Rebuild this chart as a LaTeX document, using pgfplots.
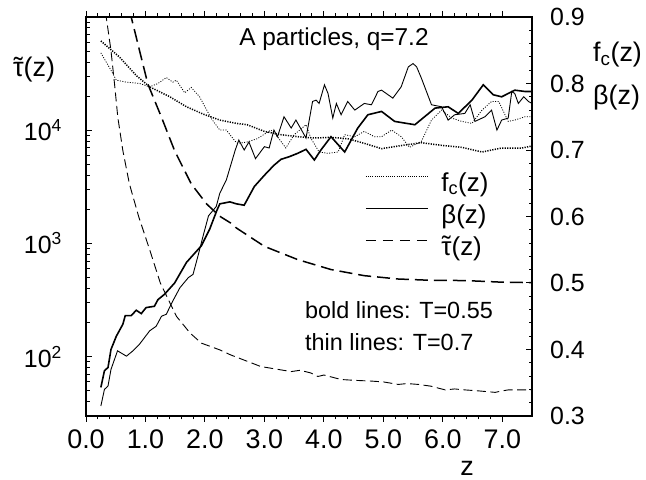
\documentclass[border=0pt]{standalone}
\usepackage{fontspec}
\setmainfont{Liberation Sans}
\usepackage{pgfplots}
\pgfplotsset{compat=1.18}
\newcommand{\tkb}{\fontsize{27}{31}\selectfont}
\newcommand{\tky}{\fontsize{25}{29}\selectfont}
\newcommand{\lab}{\fontsize{27}{31}\selectfont}
\newcommand{\leg}{\fontsize{26}{30}\selectfont}
\newcommand{\ann}{\fontsize{23.5}{27}\selectfont}
\newcommand{\tautilde}{\ooalign{τ\cr\hidewidth\raisebox{0.02em}{˜}\hidewidth\cr}}
\begin{document}
\begin{tikzpicture}
\useasboundingbox (0,0) rectangle (646bp,480bp);
\pgfplotsset{
  common/.style={at={(86bp,64bp)}, anchor=south west, scale only axis,
    width=446bp, height=399bp, xmin=0, xmax=7.5,
    axis line style={line width=1.2bp},
    every tick/.style={line width=1bp, black},
    major tick length=6bp, minor tick length=3.5bp},
  boldtau/.style={black, line width=1.5bp, dash pattern=on 13bp off 6bp},
  thintau/.style={black, line width=0.9bp, dash pattern=on 9bp off 4.5bp},
  boldfc/.style={black, line width=1.5bp, dash pattern=on 1.2bp off 1.3bp},
  thinfc/.style={black, line width=0.8bp, dash pattern=on 1bp off 1.5bp},
  boldbeta/.style={black, line width=1.6bp},
  thinbeta/.style={black, line width=0.9bp},
}
% frame and x ticks
\begin{axis}[common, ymin=0, ymax=1, ytick=\empty,
  xtick={0,1,2,3,4,5,6,7},
  xticklabels={0.0,1.0,2.0,3.0,4.0,5.0,6.0,7.0},
  minor x tick num=4, tick align=outside, xtick pos=both, xticklabel pos=bottom,
  xticklabel style={font=\tkb, inner sep=0pt, yshift=-8bp}]
\end{axis}
% left log axis: tau
\begin{axis}[common, axis x line=none, axis y line*=left, ymode=log,
  ymin=30, ymax=1e5, ytick={100,1000,10000},
  yticklabels={10\textsuperscript{2},10\textsuperscript{3},10\textsuperscript{4}},
  minor ytick={40,50,60,70,80,90,200,300,400,500,600,700,800,900,2000,3000,4000,5000,6000,7000,8000,9000,20000,30000,40000,50000,60000,70000,80000,90000},
  tick align=inside,
  yticklabel style={font=\tky, inner sep=0pt, xshift=-24bp}]
\addplot[boldtau] coordinates {
(0.5,350000) (0.76,100000) (0.90,50600) (1.04,25600) (1.27,13000) (1.49,6600)
(1.77,3360) (2.03,2230) (2.25,1740) (2.43,1520) (2.53,1370) (3.0,944)
(3.56,721) (4.12,589) (4.68,520) (5.25,486) (5.81,473) (6.37,471) (6.94,457) (7.5,451)};
\addplot[thintau] coordinates {
(0.25,250000) (0.34,100000) (0.42,50600) (0.48,25600) (0.535,13000) (0.62,6600)
(0.73,3360) (0.89,1700) (1.07,884) (1.25,448) (1.52,228) (1.75,162) (1.94,132)
(2.25,115) (2.43,104) (2.94,82) (3.45,74) (3.6,76) (3.78,72) (3.90,67) (4.0,69)
(4.29,63) (4.5,62) (4.80,61) (5.0,60) (5.25,57) (5.4,58) (5.59,57) (5.8,55)
(6.04,51) (6.2,52) (6.37,51) (6.6,50) (6.88,48.5) (7.0,50) (7.1,51) (7.3,51) (7.5,51)};
\end{axis}
% right linear axis: beta and f_c
\begin{axis}[common, axis x line=none, axis y line*=right,
  ymin=0.3, ymax=0.9, ytick={0.3,0.4,0.5,0.6,0.7,0.8,0.9},
  yticklabels={0.3,0.4,0.5,0.6,0.7,0.8,0.9},
  minor y tick num=4, tick align=inside,
  yticklabel style={font=\tky, inner sep=0pt, xshift=18bp},
  legend style={at={(0.6256,0.6115)}, anchor=north west, draw=none, fill=none,
    inner sep=0pt, row sep=7bp, font=\leg,
    nodes={inner sep=0pt, text height=19bp, text depth=6bp},
    /tikz/every odd column/.append style={column sep=13bp}},
  legend cell align=left,
  legend image code/.code={\draw[#1] (0bp,8bp) -- (62bp,8bp);}]
\addlegendimage{black, line width=1bp, dash pattern=on 1bp off 1.2bp}
\addlegendimage{black, line width=1.2bp}
\addlegendimage{black, line width=1bp, dash pattern=on 10bp off 7bp}
\legend{f\textsubscript{c}(z), β(z), \tautilde(z)}
\addplot[boldfc, forget plot] coordinates {
(0.25,0.864) (0.56,0.840) (0.845,0.812) (1.07,0.795) (1.41,0.780) (1.69,0.765)
(1.97,0.754) (2.25,0.745) (2.53,0.740) (2.71,0.738) (3.0,0.728) (3.28,0.723)
(3.56,0.720) (3.84,0.718) (4.12,0.719) (4.40,0.717) (4.68,0.710) (4.97,0.702)
(5.25,0.706) (5.64,0.711) (5.98,0.707) (6.32,0.704) (6.66,0.697) (6.99,0.703)
(7.33,0.703) (7.5,0.706)};
\addplot[thinfc, forget plot] coordinates {
(0.25,0.846) (0.42,0.820) (0.51,0.805) (0.68,0.802) (0.90,0.800) (1.07,0.795)
(1.21,0.800) (1.35,0.809) (1.46,0.802) (1.52,0.805) (1.66,0.786) (1.77,0.794)
(1.91,0.780) (2.0,0.765) (2.11,0.747) (2.25,0.730) (2.36,0.730) (2.51,0.713)
(2.55,0.71) (2.71,0.712) (2.88,0.717) (3.11,0.73) (3.22,0.72) (3.36,0.703)
(3.5,0.723) (3.70,0.738) (3.78,0.718) (3.92,0.697) (4.07,0.695) (4.24,0.697)
(4.35,0.723) (4.52,0.72) (4.68,0.728) (4.85,0.72) (4.97,0.72) (5.14,0.73)
(5.30,0.72) (5.44,0.704) (5.64,0.713) (5.81,0.745) (5.98,0.76) (6.15,0.748)
(6.32,0.743) (6.49,0.74) (6.66,0.76) (6.82,0.773) (6.94,0.773) (7.1,0.743)
(7.21,0.745) (7.38,0.75) (7.5,0.75)};
\addplot[boldbeta, forget plot] coordinates {
(0.25,0.343) (0.31,0.368) (0.37,0.373) (0.42,0.40) (0.51,0.42) (0.62,0.438)
(0.66,0.451) (0.76,0.451) (0.845,0.459) (0.93,0.454) (1.01,0.463) (1.15,0.465)
(1.21,0.475) (1.32,0.483) (1.49,0.50) (1.69,0.531) (1.86,0.548) (1.94,0.556)
(2.08,0.581) (2.20,0.609) (2.25,0.619) (2.42,0.622) (2.53,0.619) (2.66,0.617)
(2.83,0.645) (3.0,0.662) (3.16,0.677) (3.28,0.686) (3.42,0.690) (3.56,0.695)
(3.70,0.701) (3.84,0.685) (3.95,0.70) (4.12,0.72) (4.35,0.697) (4.57,0.733)
(4.74,0.753) (4.97,0.758) (5.19,0.743) (5.53,0.738) (5.87,0.763) (6.09,0.765)
(6.26,0.755) (6.49,0.775) (6.68,0.798) (6.85,0.783) (6.99,0.78) (7.21,0.79)
(7.38,0.788) (7.5,0.788)};
\addplot[thinbeta, forget plot] coordinates {
(0.25,0.315) (0.31,0.34) (0.37,0.345) (0.42,0.37) (0.53,0.398) (0.68,0.39)
(0.79,0.398) (0.90,0.408) (1.07,0.428) (1.18,0.435) (1.27,0.45) (1.35,0.453)
(1.46,0.473) (1.58,0.493) (1.72,0.508) (1.80,0.513) (1.89,0.543) (1.97,0.571)
(2.06,0.601) (2.19,0.615) (2.25,0.635) (2.36,0.655) (2.51,0.70) (2.57,0.715)
(2.66,0.70) (2.74,0.712) (2.85,0.687) (3.0,0.705) (3.08,0.703) (3.16,0.73)
(3.22,0.72) (3.33,0.75) (3.45,0.733) (3.53,0.745) (3.70,0.718) (3.81,0.773)
(3.87,0.775) (3.92,0.77) (4.01,0.798) (4.07,0.785) (4.15,0.748) (4.21,0.77)
(4.29,0.753) (4.40,0.773) (4.52,0.76) (4.68,0.77) (4.80,0.768) (4.91,0.788)
(4.97,0.79) (5.16,0.778) (5.30,0.795) (5.42,0.825) (5.50,0.83) (5.56,0.825)
(5.64,0.808) (5.81,0.768) (5.98,0.765) (6.09,0.745) (6.20,0.753) (6.37,0.755)
(6.46,0.768) (6.54,0.743) (6.71,0.75) (6.82,0.76) (6.91,0.73) (6.99,0.745)
(7.1,0.748) (7.16,0.788) (7.21,0.785) (7.27,0.77) (7.36,0.78) (7.44,0.773) (7.5,0.77)};
\end{axis}
% texts
\node[anchor=base, font=\fontsize{24.5}{28}\selectfont] at (334bp,434bp) {A particles, q=7.2};
\node[anchor=base west, font=\ann, inner sep=0pt] at (305bp,161bp) {bold lines: T=0.55};
\node[anchor=base west, font=\ann, inner sep=0pt] at (305bp,129bp) {thin lines: T=0.7};
\node[anchor=base, font=\lab, inner sep=0pt] at (34bp,403bp) {\tautilde(z)};
\node[anchor=base west, font=\lab, inner sep=0pt] at (593bp,418bp) {f\textsubscript{c}(z)};
\node[anchor=base west, font=\lab, inner sep=0pt] at (593bp,375bp) {β(z)};
\node[anchor=base, font=\lab, inner sep=0pt] at (467bp,5bp) {z};
\end{tikzpicture}
\end{document}
